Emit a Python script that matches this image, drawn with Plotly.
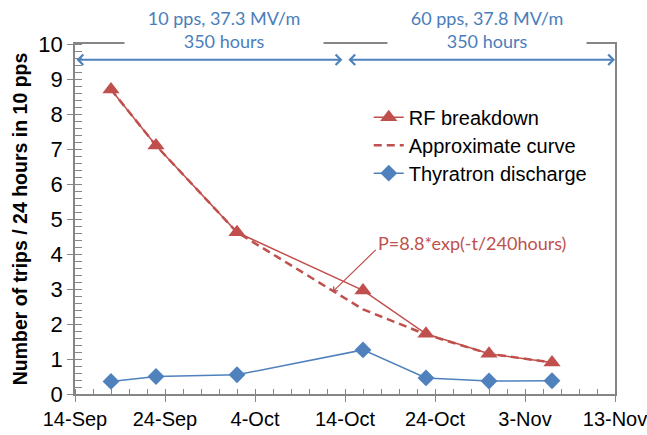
import plotly.graph_objects as go

# ---- data ----
dates = ["2012-09-18", "2012-09-23", "2012-10-02", "2012-10-16",
         "2012-10-23", "2012-10-30", "2012-11-06"]
rf_breakdown = [8.7, 7.1, 4.62, 2.96, 1.72, 1.15, 0.9]
approx_curve = [8.7, 7.1, 4.62, 2.42, 1.7, 1.15, 0.9]
thyratron = [0.36, 0.5, 0.55, 1.26, 0.46, 0.37, 0.38]

x_range = ["2012-09-14", "2012-11-13"]
y_range = [0, 10]

period_labels = ["10 pps, 37.3 MV/m<br>350 hours", "60 pps, 37.8 MV/m<br>350 hours"]
period_centers = ["2012-09-30 13:00", "2012-10-29 19:00"]
period_starts = ["2012-09-14", "2012-10-14 05:00"]
period_ends = ["2012-10-13 17:00", "2012-11-13"]
period_arrow_y = 9.55

fit_label = "P=8.8*exp(-t/240hours)"

RED = "#C0504D"
BLUE = "#4F81BD"
TXTBLUE = "#4A7EBB"
AXIS = "#868686"
FONT = "Liberation Sans, Arial, sans-serif"
CAL = "Lato, Carlito, Calibri, sans-serif"

fig = go.Figure()
fig.add_trace(go.Scatter(
    x=dates, y=rf_breakdown, name="RF breakdown", mode="lines+markers",
    line=dict(color=RED, width=1.5),
    marker=dict(symbol="triangle-up", size=15, color=RED),
    legend="legend"))
fig.add_trace(go.Scatter(
    x=dates, y=approx_curve, name="Approximate curve", mode="lines",
    line=dict(color=RED, width=2.5, dash="8px,5px"),
    legend="legend2"))
fig.add_trace(go.Scatter(
    x=dates, y=thyratron, name="Thyratron discharge", mode="lines+markers",
    line=dict(color=BLUE, width=1.5),
    marker=dict(symbol="diamond", size=13, color=BLUE),
    legend="legend3"))

annotations = []
for lab, c in zip(period_labels, period_centers):
    annotations.append(dict(
        x=c, xref="x", y=1.04, yref="paper", text=lab, showarrow=False,
        font=dict(family=CAL, size=18, color=TXTBLUE),
        bgcolor="white", width=196, borderpad=1, xanchor="center", yanchor="middle"))
for s, e in zip(period_starts, period_ends):
    annotations.append(dict(
        x=e, y=period_arrow_y, ax=s, ay=period_arrow_y, xref="x", yref="y",
        axref="x", ayref="y", text="", showarrow=True, arrowside="end+start",
        arrowhead=4, startarrowhead=4, arrowsize=1, startarrowsize=1,
        arrowwidth=2, arrowcolor=BLUE))
# fit label and its pointer
annotations.append(dict(
    x="2012-10-28 02:00", y=4.31, xref="x", yref="y", text=fit_label, showarrow=False,
    font=dict(family=CAL, size=18, color=RED), xanchor="center", yanchor="middle"))
annotations.append(dict(
    x="2012-10-12 16:00", y=2.93, ax="2012-10-17 14:00", ay=4.16,
    xref="x", yref="y", axref="x", ayref="y", text="", showarrow=True,
    arrowhead=4, arrowsize=1, arrowwidth=1.2, arrowcolor=RED))

legend_common = dict(font=dict(family=FONT, size=20, color="#000"),
                     bgcolor="rgba(0,0,0,0)", xanchor="left", yanchor="middle",
                     x=0.544)
fig.update_layout(
    width=647, height=435,
    margin=dict(l=75, r=32, t=44, b=41, autoexpand=False),
    paper_bgcolor="white", plot_bgcolor="white",
    font=dict(family=FONT, color="#000"),
    showlegend=True,
    legend=dict(y=0.791, **legend_common),
    legend2=dict(y=0.711, **legend_common),
    legend3=dict(y=0.631, **legend_common),
    annotations=annotations,
    xaxis=dict(
        type="date", range=x_range, tick0="2012-09-14", dtick=864000000,
        tickformat="%-d-%b", showgrid=False, zeroline=False, automargin=False,
        ticklabeloverflow="allow",
        showline=True, linecolor=AXIS, linewidth=1.5, mirror=True,
        ticks="outside", ticklen=6, tickcolor=AXIS, tickwidth=1.2,
        tickfont=dict(family=FONT, size=20, color="#000"),
        minor=dict(dtick=172800000, ticks="inside", ticklen=5, tickcolor=AXIS, tickwidth=1),
    ),
    yaxis=dict(
        range=y_range, dtick=1, showgrid=False, zeroline=False, automargin=False,
        showline=True, linecolor=AXIS, linewidth=1.5, mirror=True,
        ticks="outside", ticklen=6, tickcolor=AXIS, tickwidth=1.2,
        tickfont=dict(family=FONT, size=22, color="#000"),
        minor=dict(dtick=0.2, ticks="inside", ticklen=7, tickcolor=AXIS, tickwidth=1),
        title=dict(text="<b>Number of trips / 24 hours in 10 pps</b>",
                   font=dict(family=FONT, size=19.5, color="#000"), standoff=6),
    ),
)
fig.write_html("out.html")
